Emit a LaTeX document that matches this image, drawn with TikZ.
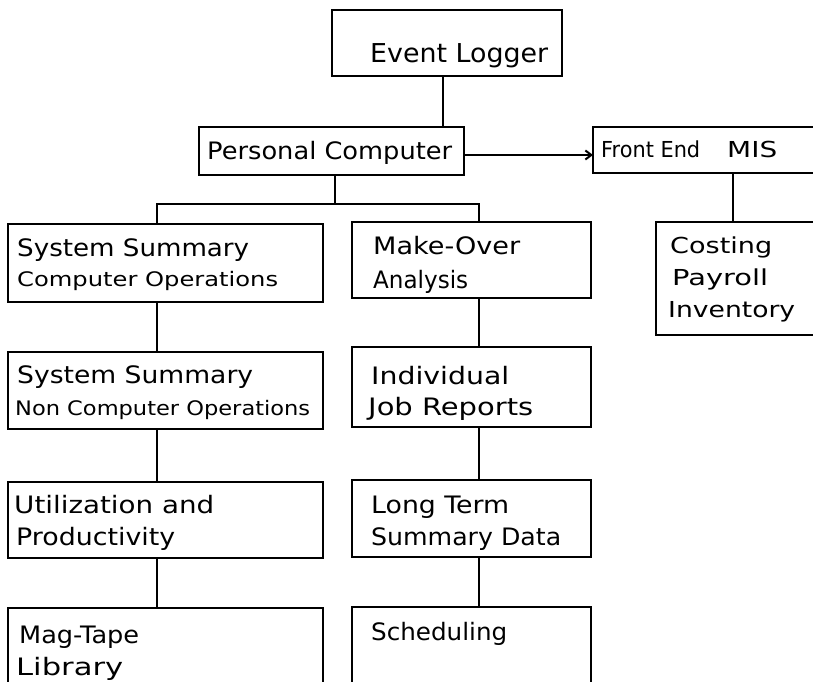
\documentclass[tikz,border=0pt]{standalone}
\usepackage{fontspec}
\setmainfont{DejaVu Sans}
\usepackage{graphicx}
\usetikzlibrary{arrows.meta}
\newlength\fitwd
\newcommand\fitto[2]{\settowidth\fitwd{#2}\pgfmathsetmacro\fitfac{#1/\fitwd}\scalebox{\fitfac}[1]{#2}}
\tikzset{
  box/.style={draw, line width=2.2pt, inner sep=0pt, outer sep=0pt},
  conn/.style={line width=2pt},
  txt/.style={anchor=base west, inner sep=0pt, font=\fontsize{24pt}{28pt}\selectfont},
  smalltxt/.style={txt, font=\fontsize{20pt}{24pt}\selectfont},
  bigtxt/.style={txt, font=\fontsize{26pt}{30pt}\selectfont},
  midtxt/.style={txt, font=\fontsize{22pt}{26pt}\selectfont},
}
\begin{document}
\begin{tikzpicture}[x=1pt, y=-1pt]
\useasboundingbox (0,0) rectangle (813,681);
\clip (0,0) rectangle (813,681);
\fill[white] (0,0) rectangle (813,681);

% boxes
\node[box, minimum width=230pt, minimum height=66pt] (EL) at (447,43) {};
\node[box, minimum width=265pt, minimum height=48pt] (PC) at (331.5,151) {};
\node[box, minimum width=240pt, minimum height=46pt] (FE) at (713,150) {};
\node[box, minimum width=180pt, minimum height=113pt] (CO) at (746,278.5) {};

\node[box, minimum width=315pt, minimum height=78pt] (L1) at (165.5,263) {};
\node[box, minimum width=315pt, minimum height=77pt] (L2) at (165.5,390.5) {};
\node[box, minimum width=315pt, minimum height=76pt] (L3) at (165.5,520) {};
\node[box, minimum width=315pt, minimum height=92pt] (L4) at (165.5,654) {};

\node[box, minimum width=239pt, minimum height=76pt] (R1) at (471.5,260) {};
\node[box, minimum width=239pt, minimum height=80pt] (R2) at (471.5,387) {};
\node[box, minimum width=239pt, minimum height=77pt] (R3) at (471.5,518.5) {};
\node[box, minimum width=239pt, minimum height=93pt] (R4) at (471.5,653.5) {};

% texts
\node[bigtxt] (ELt) at (370,62) {\fitto{178}{Event Logger}};
\node[txt] (PCt) at (207,159) {\fitto{245}{Personal Computer}};
\node[midtxt] (FEt) at (601,157) {\fitto{99}{Front End}\hspace{27pt}\fitto{50}{MIS}};

\node[txt] (L1a) at (17,256) {\fitto{232}{System Summary}};
\node[smalltxt] (L1b) at (17,286) {\fitto{261}{Computer Operations}};
\node[txt] (L2a) at (17,383) {\fitto{236}{System Summary}};
\node[smalltxt] (L2b) at (15,415) {\fitto{295}{Non Computer Operations}};
\node[txt] (L3a) at (14,513) {\fitto{200}{Utilization and}};
\node[txt] (L3b) at (16,545) {\fitto{159}{Productivity}};
\node[txt] (L4a) at (19,643) {\fitto{120}{Mag-Tape}};
\node[txt] (L4b) at (16,675) {\fitto{107}{Library}};

\node[txt] (R1a) at (373,254) {\fitto{147}{Make-Over}};
\node[txt] (R1b) at (373,288) {\fitto{95}{Analysis}};
\node[txt] (R2a) at (371,384) {\fitto{138}{Individual}};
\node[txt] (R2b) at (368,415) {\fitto{165}{Job Reports}};
\node[txt] (R3a) at (371,513) {\fitto{138}{Long Term}};
\node[txt] (R3b) at (371,545) {\fitto{190}{Summary Data}};
\node[txt] (R4a) at (371,640) {\fitto{136}{Scheduling}};

\node[midtxt] (COa) at (670,253) {\fitto{102}{Costing}};
\node[midtxt] (COb) at (672,285) {\fitto{96}{Payroll}};
\node[midtxt] (COc) at (668,317) {\fitto{127}{Inventory}};

% connectors
\draw[conn] ([xshift=-4pt]EL.south) -- ([xshift=-4pt]EL.south |- PC.north);
\draw[conn, -{Straight Barb[length=6pt,width=9pt]}] ([yshift=-4pt]PC.east) -- ([yshift=-4pt]PC.east -| FE.west);
\draw[conn] ([xshift=20pt]FE.south) -- ([xshift=20pt]FE.south |- CO.north);

\coordinate (bl) at (157,204);
\coordinate (br) at (479,204);
\draw[conn] ([xshift=3.5pt]PC.south) -- ([xshift=3.5pt]PC.south |- bl);
\draw[conn] (bl |- L1.north) -- (bl) -- (br) -- (br |- R1.north);

\draw[conn] (bl |- L1.south) -- (bl |- L2.north);
\draw[conn] (bl |- L2.south) -- (bl |- L3.north);
\draw[conn] (bl |- L3.south) -- (bl |- L4.north);

\draw[conn] (br |- R1.south) -- (br |- R2.north);
\draw[conn] (br |- R2.south) -- (br |- R3.north);
\draw[conn] (br |- R3.south) -- (br |- R4.north);
\end{tikzpicture}
\end{document}
